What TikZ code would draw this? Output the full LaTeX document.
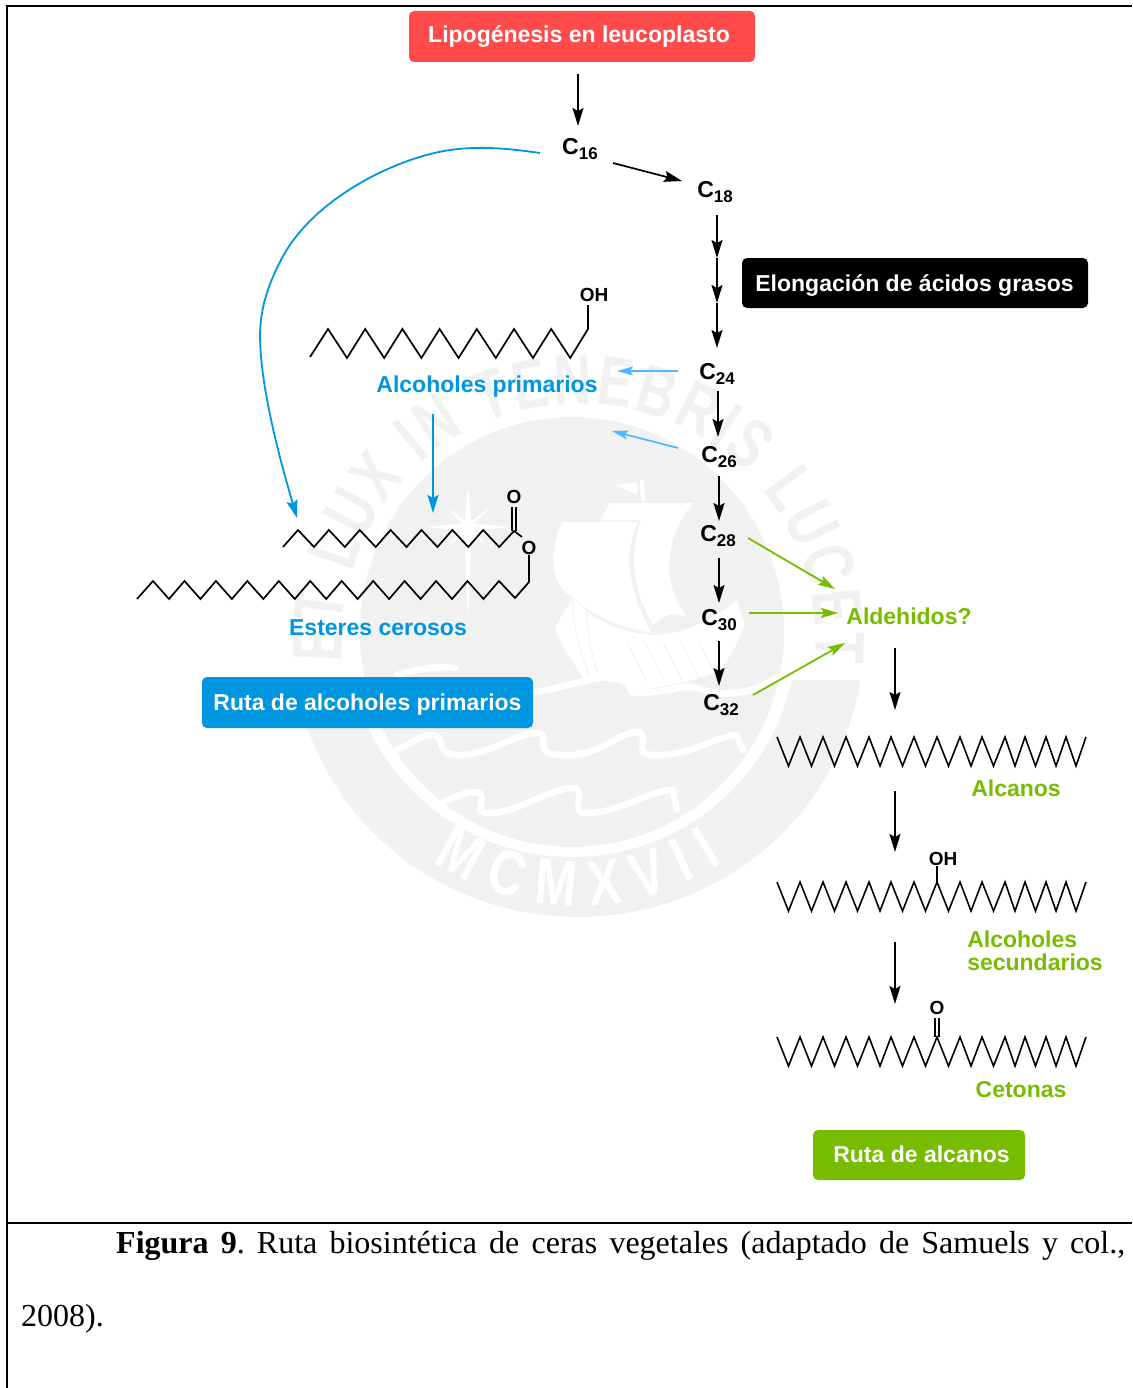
\documentclass[tikz,border=0pt]{standalone}
\usepackage{fontspec}
\setmainfont{Liberation Sans}
\newfontfamily\capfont{Liberation Serif}
\newfontfamily\sealfont[FakeStretch=0.74]{Liberation Sans}
\newfontfamily\sealfontb[FakeStretch=0.78]{Liberation Sans}
\usetikzlibrary{arrows.meta,decorations.text}
\definecolor{sealgray}{HTML}{F1F1F1}
\definecolor{redbox}{HTML}{FF4B4B}
\definecolor{bluebox}{HTML}{0095DF}
\definecolor{greenbox}{HTML}{77BC00}
\definecolor{lightblue}{HTML}{4DB8FF}
\newcommand{\Csub}[1]{C\raisebox{-5pt}{\fontsize{17}{17}\selectfont #1}}
\newcommand{\zigzag}[1]{%
  \draw[chemr] (777,#1) \foreach \v/\t in {788.5/800,811.5/823,834.5/846,857.5/869,880/891,902.5/914,925.5/937,948.5/960,971/982,993.5/1005,1015/1025,1035.5/1046,1056/1066,1076/1086} { -- (\v,{#1+29}) -- (\t,#1) };}
\tikzset{
  boxn/.style={rounded corners=5pt,inner sep=0pt,text=white,font=\fontsize{23}{23}\selectfont\bfseries},
  lbl/.style={inner sep=0pt,font=\fontsize{23}{23}\selectfont\bfseries},
  carbon/.style={inner sep=0pt,text=black,font=\fontsize{23}{23}\selectfont\bfseries},
  atom/.style={inner sep=0pt,font=\fontsize{19}{19}\selectfont\bfseries},
  arr/.style={-{Stealth[length=18pt,width=11pt,inset=3pt]},line width=1.7pt,black},
  arrblue/.style={-{Stealth[length=18pt,width=11pt,inset=3pt]},line width=1.8pt,bluebox},
  arrlight/.style={-{Stealth[length=16pt,width=9pt,inset=3pt]},line width=1.7pt,lightblue},
  arrgreen/.style={-{Stealth[length=17pt,width=10pt,inset=3pt]},line width=1.8pt,greenbox},
  chem/.style={line width=1.7pt,black},
  chemr/.style={line width=1.6pt,black},
  frame/.style={line width=2.4pt,black},
  capn/.style={inner sep=0pt,anchor=base west,font=\capfont\fontsize{32}{32}\selectfont}
}
\begin{document}
\frenchspacing
\begin{tikzpicture}[x=1pt,y=-1pt]
\useasboundingbox (0,0) rectangle (1132,1388);
% ---- watermark seal
\begin{scope}
  \clip (200,680) rectangle (950,1000);
  \fill[sealgray] (578,640) ellipse [x radius=285pt,y radius=277pt];
\end{scope}
\fill[white] (572,632) ellipse [x radius=225pt,y radius=225pt];
\fill[sealgray] (572,632) ellipse [x radius=212pt,y radius=215pt];
% star
\fill[white] (468,487) -- (472,527) -- (468,620) -- (464,527) -- cycle;
\fill[white] (425,527) -- (468,523) -- (512,527) -- (468,531) -- cycle;
\fill[white] (447,507) -- (470,525) -- (488,547) -- (466,529) -- cycle;
\fill[white] (490,507) -- (470,529) -- (447,547) -- (466,525) -- cycle;
% ship
\fill[white] (555,627) -- (573,597) .. controls (590,620) and (620,632) .. (653,635) .. controls (680,635) and (715,620) .. (737,600) -- (745,625) .. controls (735,650) and (725,665) .. (717,672) .. controls (690,682) and (660,688) .. (637,690) .. controls (620,680) and (600,680) .. (585,680) .. controls (575,665) and (560,645) .. (555,627) -- cycle;
\fill[white] (562,522) -- (638,522) .. controls (625,550) and (625,585) .. (652,633) .. controls (620,628) and (590,615) .. (573,597) .. controls (555,590) and (545,560) .. (562,522) -- cycle;
\fill[white] (610,503) -- (693,503) .. controls (665,535) and (660,585) .. (688,618) .. controls (680,612) and (665,612) .. (653,625) .. controls (630,585) and (630,550) .. (641,520) -- (600,520) -- cycle;
\fill[white] (615,485) -- (637,482) -- (637,495) -- cycle;
\fill[white] (640,480) -- (644,480) -- (645,501) -- (641,501) -- cycle;
\foreach \a in {627,645,663,681,699} \draw[sealgray,line width=0.9pt] (\a,642) -- ({\a+20},682);
\draw[sealgray,line width=0.9pt] (573,597) .. controls (572,620) and (578,650) .. (590,676);
\draw[sealgray,line width=0.9pt] (587,610) .. controls (586,630) and (592,655) .. (597,672);
% waves
\begin{scope}[white,line width=6.5pt,line cap=round,line join=round]
  \draw (533,692) .. controls (560,690) and (590,675) .. (623,677) .. controls (640,680) and (620,695) .. (640,693) .. controls (670,692) and (680,685) .. (693,687) .. controls (705,690) and (715,695) .. (730,693) .. controls (750,693) and (765,685) .. (777,677);
  \draw (397,675) .. controls (420,668) and (440,666) .. (455,668);
  \draw (397,750) .. controls (410,745) and (420,735) .. (430,735) .. controls (450,735) and (430,755) .. (460,755) .. controls (490,755) and (515,733) .. (537,733) .. controls (555,735) and (525,757) .. (570,755) .. controls (600,755) and (620,732) .. (637,732) .. controls (655,735) and (625,757) .. (660,755) .. controls (690,755) and (720,735) .. (737,735) -- (743,750);
  \draw (443,802) .. controls (455,797) and (465,792) .. (477,792) .. controls (490,795) and (470,815) .. (490,813) .. controls (520,812) and (550,788) .. (573,788) .. controls (590,790) and (565,815) .. (590,813) .. controls (620,812) and (650,790) .. (673,790) -- (677,810);
\end{scope}
% seal texts
\path[decorate,decoration={text along path,text align=fit to path,
  text={|\sealfont\bfseries\fontsize{70}{70}\selectfont\color{sealgray}|ET LUX IN TENEBRIS LUCET}}]
  (341,662) -- (342,640) .. controls (342,508.6) and (446.6,404) .. (578,404) .. controls (709.4,404) and (816,508.6) .. (816,640) -- (815,662);
\path[decorate,decoration={text along path,text align=fit to path,
  text={|\sealfontb\bfseries\fontsize{64}{64}\selectfont\color{white}|MCMXVII}}]
  (433,862) .. controls (480,892) and (530,906) .. (578,906) .. controls (626,906) and (676,892) .. (723,862);
% ---- frame
\draw[frame] (7,1388) -- (7,6) -- (1132,6);
\draw[frame] (7,1223) -- (1132,1223);
% ---- chain molecules
\draw[chem] (310,357) \foreach \k in {0,...,6} { -- ({328+37.2*\k},329) -- ({347+37.2*\k},358) } -- (588,329) -- (588,305);
\node[atom] (oh1) at (594,295) {OH};
\draw[chem] (283,547) \foreach \k in {0,...,6} { -- ({298+30.86*\k},530) -- ({314+30.86*\k},547) } -- (514,531) -- (522,537);
\draw[chem] (512,531) -- (512,507) (516,531) -- (516,507);
\node[atom] (o1) at (514,497) {O};
\node[atom] (o2) at (529,548) {O};
\draw[chem] (137,599) \foreach \k in {0,...,10} { -- ({153+31.45*\k},581) -- ({169+31.45*\k},599) } -- (499,581) -- (515,598) -- (529,582) -- (o2.south);
\zigzag{737}
\zigzag{882}
\zigzag{1037}
\draw[chemr] (937,882) -- (937,866);
\node[atom] (oh2) at (943,859) {OH};
\draw[chemr] (935,1037) -- (935,1018) (939,1037) -- (939,1018);
\node[atom] (o3) at (937,1008) {O};
\coordinate (alkA) at (895,751);
\coordinate (alkB) at (895,896);
\coordinate (alkC) at (895,1052);
\coordinate (esterT) at (433,539);
\coordinate (esterL) at (298,539);
% ---- boxes
\node[boxn,fill=redbox,minimum width=346pt,minimum height=51pt,text height=18pt,text depth=5.5pt] (lipo) at (582,36.5) {\hspace*{-6pt}Lipogénesis en leucoplasto};
\node[boxn,fill=black,minimum width=346pt,minimum height=50pt,text height=21pt,text depth=5pt] (elong) at (915,283) {\hspace*{-1pt}Elongación de ácidos grasos};
\node[boxn,fill=bluebox,minimum width=331pt,minimum height=51pt,text height=20pt,text depth=5pt] (rutaalc) at (367.5,702.5) {Ruta de alcoholes primarios};
\node[boxn,fill=greenbox,minimum width=212pt,minimum height=50pt,text height=19pt,text depth=5pt] (rutaalk) at (919,1155) {\hspace*{5pt}Ruta de alcanos};
% ---- carbon nodes
\node[carbon] (c16) at (580,149) {\Csub{16}};
\node[carbon] (c18) at (715,192) {\Csub{18}};
\coordinate (c20) at (717,258);
\coordinate (c22) at (717,303);
\node[carbon] (c24) at (717,374) {\Csub{24}};
\node[carbon] (c26) at (719,457) {\Csub{26}};
\node[carbon] (c28) at (718,536) {\Csub{28}};
\node[carbon] (c30) at (719,620) {\Csub{30}};
\node[carbon] (c32) at (721,705) {\Csub{32}};
% ---- labels
\node[lbl,text=bluebox] (alcprim) at (487,387) {Alcoholes primarios};
\node[lbl,text=bluebox] (esteres) at (378,628) {Esteres cerosos};
\node[lbl,text=greenbox] (ald) at (909,616) {Aldehidos?};
\node[lbl,text=greenbox] (alcanos) at (1016,788) {Alcanos};
\node[lbl,text=greenbox,align=left,font=\fontsize{23}{23}\selectfont\bfseries] (alcsec) at (1035,951) {Alcoholes\\secundarios};
\node[lbl,text=greenbox] (cetonas) at (1021,1090) {Cetonas};
% ---- arrows
\draw[arr] ([xshift=-4pt,yshift=-37.5pt]lipo.center) -- ([xshift=-2pt,yshift=23pt]c16.center);
\draw[arr] ([xshift=33pt,yshift=-14pt]c16.center) -- ([xshift=-33pt,yshift=11pt]c18.center);
\draw[arr] ([xshift=2pt,yshift=-23pt]c18.center) -- (c20);
\draw[arr] (c20) -- (c22);
\draw[arr] (c22) -- ([yshift=26pt]c24.center);
\draw[arr] ([xshift=1pt,yshift=-17pt]c24.center) -- ([xshift=-1pt,yshift=20pt]c26.center);
\draw[arr] ([yshift=-19pt]c26.center) -- ([xshift=1pt,yshift=15pt]c28.center);
\draw[arr] ([xshift=1pt,yshift=-22pt]c28.center) -- ([yshift=17pt]c30.center);
\draw[arr] ([yshift=-21pt]c30.center) -- ([xshift=-2pt,yshift=19pt]c32.center);
\draw[arrlight] ([xshift=-39pt,yshift=3pt]c24.center) -- ([xshift=130pt,yshift=16pt]alcprim.center);
\draw[arrlight] ([xshift=-41pt,yshift=9pt]c26.center) -- ([xshift=125pt,yshift=-44pt]alcprim.center);
\draw[arrblue] ([xshift=-54pt,yshift=-27pt]alcprim.center) -- ([yshift=26pt]esterT);
\draw[arrblue] ([xshift=-40pt,yshift=-4pt]c16.center) .. controls (505,148) and (480,146) .. (450,150) .. controls (395,158) and (310,200) .. (280,262) .. controls (268,285) and (260,310) .. (260,335) .. controls (260,390) and (283,470) .. ([xshift=-1pt,yshift=21pt]esterL);
\draw[arrgreen] ([xshift=30pt,yshift=-2pt]c28.center) -- ([xshift=-74pt,yshift=27pt]ald.center);
\draw[arrgreen] ([xshift=30pt,yshift=7pt]c30.center) -- ([xshift=-71pt,yshift=3pt]ald.center);
\draw[arrgreen] ([xshift=32pt,yshift=10pt]c32.center) -- ([xshift=-64pt,yshift=-27pt]ald.center);
\draw[arr] ([xshift=-14pt,yshift=-32pt]ald.center) -- ([yshift=41pt]alkA);
\draw[arr] ([yshift=-40pt]alkA) -- ([yshift=44pt]alkB);
\draw[arr] ([yshift=-46pt]alkB) -- ([yshift=48pt]alkC);
% ---- caption
\node[capn] (cap1) at (116,1253) {\makebox[1009pt][s]{\textbf{Figura 9}. Ruta biosintética de ceras vegetales (adaptado de Samuels y col.,}};
\node[capn] (cap2) at (21,1326) {2008).};
\end{tikzpicture}
\end{document}
